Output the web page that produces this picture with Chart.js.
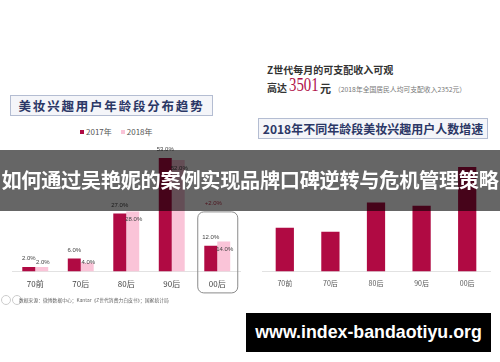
<!DOCTYPE html>
<html>
<head>
<meta charset="utf-8">
<script src="https://cdn.jsdelivr.net/npm/chart.js@4.4.1/dist/chart.umd.min.js"></script>
<style>
  body { margin: 0; background: #fff; }
  #page { position: relative; width: 500px; height: 362px; overflow: hidden; background: #fff;
          font-family: "Noto Sans CJK SC", "Noto Sans", sans-serif; }
  .abs { position: absolute; white-space: nowrap; }
  .tbox { position: absolute; border: 1px solid #b4bdd2; background: #f4f5f9; color: #2b3766;
          font-weight: 700; text-align: center; }
  #c1 { position: absolute; left: 0; top: 143px; }
  #c2 { position: absolute; left: 250px; top: 146px; }
  #banner { position: absolute; left: 0; top: 150px; width: 500px; height: 61px; background: rgba(0,0,0,0.6);
            color: #fff; font-weight: 700; font-size: 20.2px; letter-spacing: -0.3px; line-height: 60px;
            text-align: center; white-space: nowrap; }
  #site { position: absolute; left: 246px; top: 313px; width: 245px; height: 39px; background: #000; color: #fff;
          font-family: "Liberation Sans", sans-serif; font-weight: 700; font-size: 17.8px; line-height: 39px; text-align: center; }
</style>
</head>
<body>
<div id="page">
  <div class="tbox" style="left:10px; top:95px; width:201px; height:19px; line-height:19px; font-size:12.5px; letter-spacing:1.8px;">美妆兴趣用户年龄段分布趋势</div>
  <div class="abs" id="legend" style="left:80px; top:127px; font-size:8px; color:#555; line-height:10px;"></div>

  <div class="abs" style="left:267px; top:62px; font-size:10px; font-weight:700; color:#333;">Z世代每月的可支配收入可观</div>
  <div class="abs" style="left:267px; top:80px; font-size:10px; font-weight:700; color:#333;">高达</div>
  <div class="abs" style="left:289px; top:74px; font-size:19px; color:#b0124a; font-family:'Liberation Serif', serif; transform:scaleX(0.78); transform-origin:left top;">3501</div>
  <div class="abs" style="left:320px; top:80px; font-size:11px; font-weight:700; color:#333;">元</div>
  <div class="abs" style="left:334px; top:84px; font-size:6.8px; color:#777;">（2018年全国居民人均可支配收入2352元）</div>
  <div class="tbox" style="left:258px; top:118px; width:228px; height:19px; line-height:19px; font-size:12px;">2018年不同年龄段美妆兴趣用户人数增速</div>

  <canvas id="c1" width="250" height="158"></canvas>
  <canvas id="c2" width="250" height="154"></canvas>

  <div class="abs" style="left:1px; top:295px; width:8px; height:8px; border:1px solid #ccc; border-radius:50%;"></div>
  <div class="abs" style="left:12px; top:295px; width:8px; height:8px; border:1px solid #ccc; border-radius:50%;"></div>
  <div class="abs" style="left:19px; top:296px; font-size:4.8px; color:#666;">数据来源：微博数据中心；Kantar《Z世代消费力白皮书》；国家统计局</div>

  <div id="banner">如何通过吴艳妮的案例实现品牌口碑逆转与危机管理策略</div>
  <div id="site">www.index-bandaotiyu.org</div>
</div>
<script>
const categories = ['70前', '70后', '80后', '90后', '00后'];
const seriesNames = ['2017年', '2018年'];
const share2017 = [2, 6, 27, 53, 12];
const share2018 = [2, 4, 28, 52, 14];
const growth2018 = [21, 19, 33, 31.5, 50];
const highlightNote = '+2.0%';

const crimson = '#b00a43';
const pink = '#fac4d8';

// legend
document.getElementById('legend').innerHTML = seriesNames.map((n, i) =>
  '<span style="display:inline-block;width:4px;height:4px;background:' + [crimson, pink][i] +
  ';margin-right:2px;vertical-align:1px;"></span>' + n).join('<span style="display:inline-block;width:9px"></span>');

let barLabels = {
  id: 'barLabels',
  afterDatasetsDraw(chart) {
    let ctx = chart.ctx;
    let base = chart.chartArea.bottom;
    ctx.save();
    ctx.font = '6px "Liberation Sans", sans-serif';
    ctx.fillStyle = '#444';
    ctx.textAlign = 'center';
    ctx.textBaseline = 'middle';
    chart.data.datasets.forEach((ds, i) => {
      chart.getDatasetMeta(i).data.forEach((bar, j) => {
        let y = i === 0 ? bar.y - 8.5 : Math.min(bar.y + 8, base - 9);
        let x = i === 0 ? bar.x : bar.x + 1;
        ctx.fillText(ds.data[j].toFixed(1) + '%', x, y);
      });
    });
    ctx.restore();
  }
};

let highlight = {
  id: 'highlight',
  afterDraw(chart) {
    let ctx = chart.ctx;
    let x = chart.scales.x.getPixelForValue(4);
    let b = chart.chartArea.bottom;
    ctx.save();
    ctx.strokeStyle = '#8a8a8a';
    ctx.lineWidth = 1;
    ctx.beginPath();
    ctx.roundRect(x - 19.5, b - 59.5, 40, 81, 6);
    ctx.stroke();
    ctx.fillStyle = '#c0384f';
    ctx.font = '6px "Liberation Sans", sans-serif';
    ctx.textAlign = 'center';
    ctx.textBaseline = 'middle';
    ctx.fillText(highlightNote, x - 4, b - 68);
    ctx.restore();
  }
};

let left = new Chart('c1', {
  type: 'bar',
  data: {
    labels: categories,
    datasets: [
      { label: seriesNames[0], data: share2017, backgroundColor: crimson },
      { label: seriesNames[1], data: share2018, backgroundColor: pink }
    ]
  },
  options: {
    responsive: false,
    animation: false,
    layout: { padding: { left: 12.5, right: 10, top: 0, bottom: 4 } },
    datasets: { bar: { categoryPercentage: 0.57, barPercentage: 1 } },
    plugins: { legend: { display: false }, tooltip: { enabled: false } },
    scales: {
      y: { display: false, min: 0, max: 60 },
      x: {
        grid: { display: false, drawTicks: false },
        border: { color: '#e2e2e2' },
        ticks: { color: '#444', padding: 8, font: { size: 8, family: '"Noto Sans CJK SC"' } }
      }
    }
  },
  plugins: [barLabels, highlight]
});

let right = new Chart('c2', {
  type: 'bar',
  data: {
    labels: categories,
    datasets: [{ label: '增速', data: growth2018, backgroundColor: crimson }]
  },
  options: {
    responsive: false,
    animation: false,
    layout: { padding: { left: 12, right: 10, top: 0, bottom: 4 } },
    datasets: { bar: { categoryPercentage: 1, barPercentage: 0.4 } },
    plugins: { legend: { display: false }, tooltip: { enabled: false } },
    scales: {
      y: { display: false, min: 0, max: 60 },
      x: {
        grid: { display: false, drawTicks: false },
        border: { color: '#e2e2e2' },
        ticks: { color: '#555', padding: 8, font: { size: 7, family: '"Noto Sans CJK SC"' } }
      }
    }
  }
});
</script>
</body>
</html>
